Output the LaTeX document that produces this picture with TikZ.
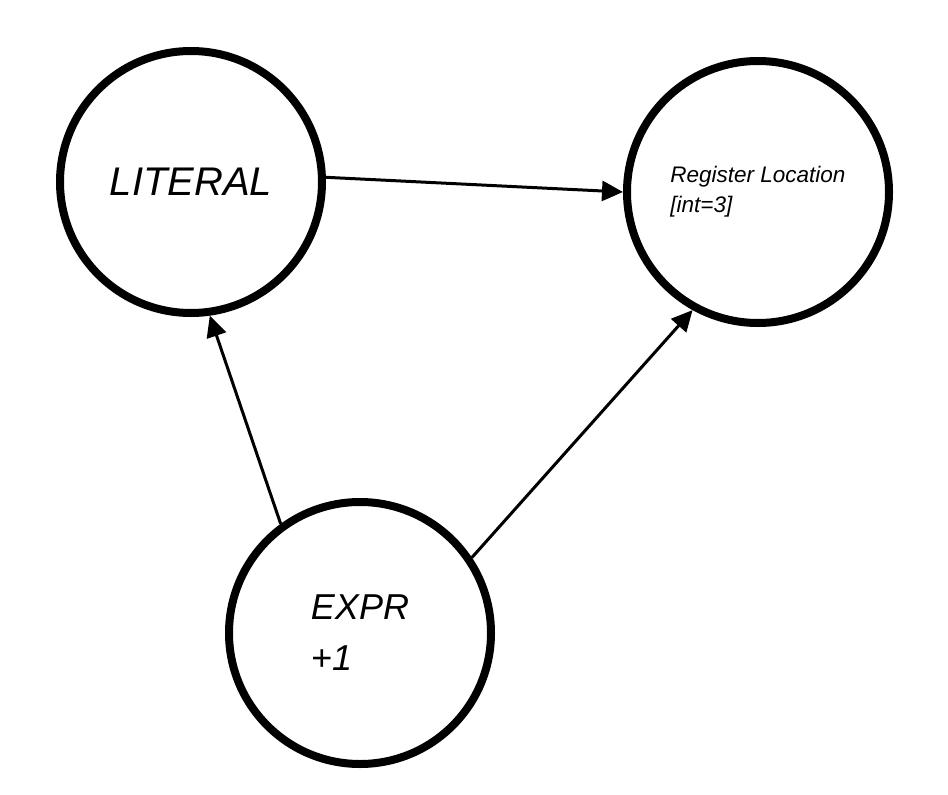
\documentclass[tikz,border=0pt]{standalone}
\usepackage{fontspec}
\setmainfont{Liberation Sans}
\usetikzlibrary{arrows.meta}
\begin{document}
\begin{tikzpicture}[x=1pt,y=-1pt,
  state/.style={circle, draw, line width=8pt, minimum size=262pt, inner sep=0pt, align=left},
  edge/.style={line width=3pt, -{Triangle[length=21pt,width=20pt]}}]
\useasboundingbox (0,0) rectangle (948,795);
\node[state, font=\fontsize{40}{48}\selectfont\itshape] (lit) at (191,182) {LITERAL};
\node[state, font=\fontsize{22.5}{30}\selectfont\itshape] (reg) at (758,192) {Register Location\\{}[int=3]};
\node[state, font=\fontsize{36}{51}\selectfont\itshape] (expr) at (360,633) {EXPR\\+1};
\draw[edge] (lit.2) -- (reg.180);
\draw[edge] (expr.126) -- (lit.278);
\draw[edge] (expr.34) -- (reg.241);
\end{tikzpicture}
\end{document}
